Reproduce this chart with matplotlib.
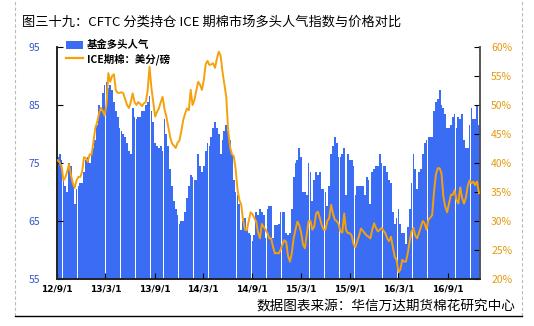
import numpy as np
import pandas as pd
import matplotlib
matplotlib.use("Agg")
import matplotlib.pyplot as plt
from matplotlib.patches import Patch
from matplotlib.lines import Line2D
from matplotlib.ticker import FuncFormatter

plt.rcParams['font.family'] = ['Noto Sans CJK SC', 'DejaVu Sans']

# weekly readings, 2012-09-04 .. 2016-12-27
start = '2012-09-04'
n_weeks = 226

# fund long sentiment index (left axis)
sentiment = [
    76.0, 76.5, 75.5, 72.5, 71.0, 70.0, 75.0, 74.5, 71.5, 68.0,
    70.5, 71.0, 71.5, 71.5, 73.5, 75.5, 76.0, 75.0, 76.5, 77.5,
    79.0, 81.5, 85.0, 84.0, 87.0, 88.5, 89.0, 88.0, 88.5, 87.5,
    85.5, 84.0, 83.0, 81.0, 80.5, 80.0, 79.5, 78.5, 77.0, 76.5,
    84.5, 83.0, 82.5, 83.0, 83.0, 84.0, 84.0, 85.0, 85.5, 86.5,
    84.0, 82.0, 78.5, 78.0, 77.5, 78.0, 77.0, 82.5, 80.0, 78.0,
    74.0, 71.0, 68.5, 67.0, 66.0, 64.5, 65.0, 65.0, 66.5, 69.0,
    71.0, 73.0, 72.5, 72.0, 72.0, 76.5, 74.5, 73.5, 74.5, 77.0,
    78.5, 78.0, 79.5, 81.0, 82.0, 81.0, 80.0, 76.5, 79.0, 80.5,
    81.5, 80.5, 79.0, 76.5, 72.0, 70.0, 69.5, 68.0, 63.5, 65.0,
    65.5, 63.5, 63.0, 62.5, 61.5, 62.5, 66.5, 66.0, 67.0, 66.5,
    66.0, 62.0, 67.0, 67.5, 67.5, 62.0, 64.3, 64.3, 64.5, 66.5,
    66.5, 66.5, 63.0, 62.5, 63.0, 67.0, 72.5, 75.0, 75.5, 77.5,
    76.0, 70.0, 70.0, 69.5, 75.0, 73.5, 68.5, 72.0, 73.5, 73.0,
    73.5, 70.5, 70.5, 70.0, 67.5, 71.0, 76.5, 78.0, 79.5, 78.5,
    76.0, 76.0, 76.5, 77.5, 69.5, 76.5, 75.5, 75.5, 74.5, 69.5,
    71.0, 71.0, 71.0, 71.0, 69.5, 72.5, 72.0, 68.0, 73.5, 74.0,
    74.5, 74.5, 76.5, 75.0, 74.5, 74.5, 73.5, 72.0, 71.5, 66.5,
    64.5, 65.5, 67.0, 64.5, 63.0, 63.0, 61.0, 64.0, 67.0, 71.5,
    76.5, 74.0, 70.5, 73.5, 74.0, 76.5, 78.5, 79.0, 79.5, 79.5,
    79.5, 84.0, 85.5, 86.0, 87.5, 85.0, 84.5, 83.5, 81.0, 81.0,
    81.5, 83.0, 83.5, 81.0, 83.0, 82.5, 83.5, 79.0, 77.5, 77.5,
    81.5, 84.5, 82.5, 82.5, 85.0, 81.5,
]

# ICE cotton futures, cents/lb (right axis, shown as %)
price = [
    40.5, 40.0, 39.5, 37.0, 37.5, 38.5, 39.8, 38.0, 36.5, 35.7,
    37.0, 37.6, 37.6, 38.5, 41.0, 40.8, 40.2, 41.5, 41.4, 43.5,
    46.0, 47.0, 48.5, 49.5, 49.0, 48.2, 50.0, 55.5, 54.0, 55.0,
    55.3, 52.5, 52.1, 52.1, 52.2, 52.0, 51.0, 50.0, 49.5, 50.5,
    52.0, 50.5, 50.0, 50.5, 50.2, 49.8, 50.3, 50.5, 52.5, 56.6,
    53.0, 50.5, 48.0, 48.8, 49.4, 50.5, 51.4, 49.3, 48.0, 46.3,
    44.5, 43.4, 43.0, 42.6, 43.5, 43.9, 45.5, 47.4, 48.5, 49.4,
    49.1, 52.6, 50.0, 50.9, 52.5, 54.0, 53.5, 52.6, 54.3, 57.0,
    57.6, 56.9, 57.0, 57.2, 56.4, 58.0, 59.2, 58.5, 55.7, 53.5,
    51.4, 45.7, 42.8, 41.5, 41.2, 39.0, 35.5, 33.6, 32.8, 30.2,
    28.5, 28.4, 30.0, 31.5, 31.2, 30.5, 29.9, 28.0, 27.0, 29.5,
    29.0, 28.5, 27.9, 27.0, 27.0, 25.5, 24.4, 24.5, 24.4, 25.0,
    26.0, 26.7, 26.4, 24.0, 23.0, 24.4, 27.0, 28.5, 29.9, 29.3,
    28.0, 26.0, 25.3, 27.6, 30.0, 30.0, 28.5, 29.0, 31.3, 31.6,
    30.5, 29.3, 28.5, 28.5, 30.0, 30.5, 32.8, 31.3, 30.2, 30.0,
    29.5, 28.2, 28.0, 31.3, 28.4, 27.9, 27.9, 27.5, 26.0, 25.5,
    26.5, 27.5, 28.7, 28.3, 27.9, 27.5, 27.3, 27.0, 28.5, 29.6,
    28.8, 28.2, 28.5, 28.8, 28.3, 27.9, 27.0, 26.5, 27.3, 25.6,
    23.8, 23.3, 21.2, 21.6, 23.3, 23.0, 23.0, 24.5, 26.5, 28.2,
    28.8, 27.5, 27.0, 28.0, 29.0, 30.0, 29.6, 28.5, 30.2, 30.6,
    31.0, 35.0, 38.0, 39.1, 39.1, 38.2, 34.2, 32.5, 31.5, 33.0,
    34.5, 34.5, 35.3, 33.6, 33.0, 35.8, 34.0, 33.0, 34.0, 36.0,
    37.0, 36.5, 36.8, 36.2, 36.8, 34.8,
]

tick_dates = ['2012-09-01', '2013-03-01', '2013-09-01', '2014-03-01', '2014-09-01',
              '2015-03-01', '2015-09-01', '2016-03-01', '2016-09-01']
tick_labels = ['12/9/1', '13/3/1', '13/9/1', '14/3/1', '14/9/1',
               '15/3/1', '15/9/1', '16/3/1', '16/9/1']

dates = pd.date_range(start, periods=n_weeks, freq='7D')

blue = '#3b6cf4'
orange = '#f5a10c'

fig = plt.figure(figsize=(5.34, 3.26), dpi=100)
ax = fig.add_axes([57/534, 1-279/326, (480-57)/534, (279-47)/326])

ax.bar(dates, sentiment, width=6.6, color=blue, linewidth=0, zorder=1)
ax.set_ylim(55, 95)
ax.set_yticks([55, 65, 75, 85, 95])
ax.set_xlim(pd.Timestamp('2012-09-01'), pd.Timestamp('2016-12-31'))
ax.set_xticks(pd.to_datetime(tick_dates))
ax.set_xticklabels(tick_labels, fontsize=6.5, fontweight='bold', family='DejaVu Sans')
ax.tick_params(axis='y', direction='in', length=4, labelsize=7.5, labelcolor='#3557c8', pad=12)
ax.tick_params(axis='x', direction='in', length=4, pad=4)

ax2 = ax.twinx()
ax2.plot(dates, price, color=orange, linewidth=1.4, zorder=3)
ax2.set_ylim(20, 60)
ax2.set_yticks(np.arange(20, 61, 5))
ax2.yaxis.set_major_formatter(FuncFormatter(lambda v, p: '%d%%' % v))
ax2.tick_params(axis='y', direction='in', length=4, labelsize=7.5, labelcolor='#e49a10', pad=8)

for a in (ax, ax2):
    a.spines['top'].set_visible(False)
    a.spines['left'].set_color('#222222')
    a.spines['right'].set_color('#555555')
    a.spines['bottom'].set_color('#222222')
    a.spines['left'].set_linewidth(1.2)
    a.spines['right'].set_linewidth(1.2)
    a.spines['bottom'].set_linewidth(1.2)

handles = [Patch(facecolor=blue, edgecolor='none'),
           Line2D([0], [0], color=orange, linewidth=1.6)]
fig.legend(handles, ['基金多头人气', 'ICE期棉：美分/磅'], loc='upper left',
           bbox_to_anchor=(66/534, 1-40/326), frameon=False,
           handlelength=1.6, handleheight=0.8, handletextpad=0.4,
           labelspacing=0.25, borderaxespad=0, borderpad=0,
           prop={'weight': 'bold', 'size': 7.5})

fig.text(22/534, 1-22/326, '图三十九：CFTC 分类持仓 ICE 期棉市场多头人气指数与价格对比',
         fontsize=9.5, va='center', ha='left')
fig.text(515/534, 1-306/326, '数据图表来源：华信万达期货棉花研究中心',
         fontsize=9.8, va='center', ha='right')

# page frame: dashed side borders and bottom rule
fig.add_artist(Line2D([15/534, 15/534], [1-316/326, 1.0], transform=fig.transFigure,
                      color='#bbbbbb', linewidth=0.8, linestyle=(0, (3, 2))))
fig.add_artist(Line2D([522/534, 522/534], [1-316/326, 1.0], transform=fig.transFigure,
                      color='#bbbbbb', linewidth=0.8, linestyle=(0, (3, 2))))
fig.add_artist(Line2D([15/534, 522/534], [1-316/326, 1-316/326], transform=fig.transFigure,
                      color='black', linewidth=1.0))

fig.savefig('out.png', dpi=100)
